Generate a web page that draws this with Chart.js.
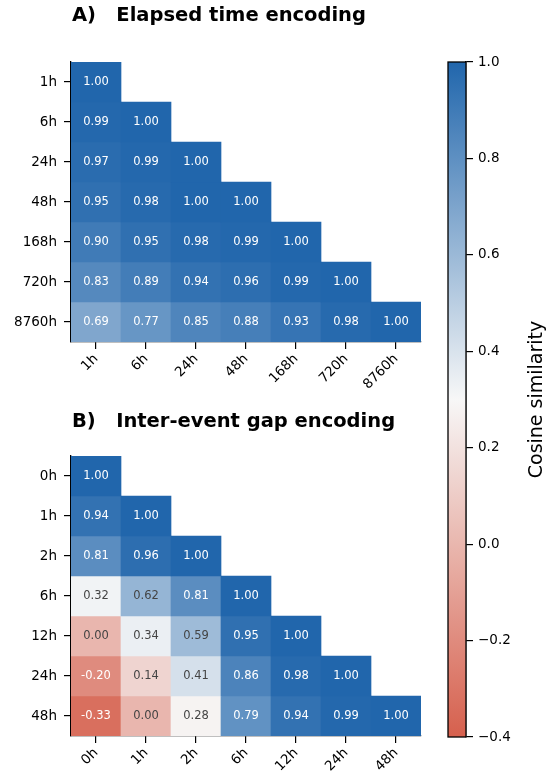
<!DOCTYPE html>
<html>
<head>
<meta charset="utf-8">
<script src="https://cdn.jsdelivr.net/npm/chart.js@4/dist/chart.umd.min.js"></script>
<style>
  html, body { margin: 0; padding: 0; background: #fff; }
  #wrap { position: relative; width: 551px; height: 776px; overflow: hidden; }
  canvas { position: absolute; }
</style>
</head>
<body>
<div id="wrap">
  <canvas id="elapsedChart" width="440" height="400" style="left:0;top:0;width:440px;height:400px"></canvas>
  <canvas id="gapChart" width="440" height="400" style="left:0;top:394px;width:440px;height:400px"></canvas>
  <canvas id="colorbar" width="121" height="776" style="left:430px;top:0;width:121px;height:776px"></canvas>
</div>
<script>
// --- data ---
const elapsedLabels = ['1h', '6h', '24h', '48h', '168h', '720h', '8760h'];
const elapsedValues = [
    [1.00],
    [0.99, 1.00],
    [0.97, 0.99, 1.00],
    [0.95, 0.98, 1.00, 1.00],
    [0.90, 0.95, 0.98, 0.99, 1.00],
    [0.83, 0.89, 0.94, 0.96, 0.99, 1.00],
    [0.69, 0.77, 0.85, 0.88, 0.93, 0.98, 1.00]
];

const gapLabels = ['0h', '1h', '2h', '6h', '12h', '24h', '48h'];
const gapValues = [
    [1.00],
    [0.94, 1.00],
    [0.81, 0.96, 1.00],
    [0.32, 0.62, 0.81, 1.00],
    [0.00, 0.34, 0.59, 0.95, 1.00],
    [-0.20, 0.14, 0.41, 0.86, 0.98, 1.00],
    [-0.33, 0.00, 0.28, 0.79, 0.94, 0.99, 1.00]
];

const colorbarTicks = [1.0, 0.8, 0.6, 0.4, 0.2, 0.0, -0.2, -0.4];
const colorRange = [-0.4, 1.0];

// --- colour map: red -> near white -> blue ---
const cmapColors = [[214, 96, 77], [247, 247, 247], [33, 102, 172]];

function cmap(v) {
    let t = (v - colorRange[0]) / (colorRange[1] - colorRange[0]);
    t = Math.max(0, Math.min(1, t));
    const seg = t < 0.5 ? 0 : 1;
    const f = seg === 0 ? t / 0.5 : (t - 0.5) / 0.5;
    const a = cmapColors[seg], b = cmapColors[seg + 1];
    return a.map((c, k) => Math.round(c + (b[k] - c) * f));
}
function rgb(c) { return `rgb(${c[0]},${c[1]},${c[2]})`; }

const FONT = 'DejaVu Sans';
const fmtMinus = s => s.replace('-', '\u2212');

// cell annotations
const cellText = {
    id: 'cellText',
    afterDatasetsDraw(chart) {
        const ctx = chart.ctx;
        ctx.save();
        ctx.font = `11.5px "${FONT}"`;
        ctx.textAlign = 'center';
        ctx.textBaseline = 'middle';
        chart.data.datasets.forEach((ds, di) => {
            const meta = chart.getDatasetMeta(di);
            meta.data.forEach((bar, j) => {
                const v = ds.cellValues[j];
                if (v === null || v === undefined) return;
                const c = cmap(v);
                const lum = 0.299 * c[0] + 0.587 * c[1] + 0.114 * c[2];
                ctx.fillStyle = lum > 168 ? '#444444' : '#ffffff';
                ctx.fillText(v.toFixed(2), bar.x, (bar.y + bar.base) / 2 + 0.5);
            });
        });
        ctx.restore();
    }
};

const panelTitle = {
    id: 'panelTitle',
    afterDraw(chart, args, opts) {
        const ctx = chart.ctx;
        ctx.save();
        ctx.font = `bold 19.5px "${FONT}"`;
        ctx.fillStyle = '#000';
        ctx.textAlign = 'left';
        ctx.textBaseline = 'alphabetic';
        ctx.fillText(opts.text, chart.chartArea.left + 1, opts.baseline);
        ctx.restore();
    }
};

function renderHeatmap({ elementId, labels, values, title, titleBaseline }) {
    const canvas = document.getElementById(elementId);
    const datasets = values.map((row, i) => {
        const cells = labels.map((_, j) => (j < row.length ? row[j] : null));
        return {
            data: cells.map(v => (v === null ? null : [i, i + 1])),
            cellValues: cells,
            backgroundColor: cells.map(v => (v === null ? 'rgba(0,0,0,0)' : rgb(cmap(v)))),
            borderWidth: 0,
            grouped: false,
            categoryPercentage: 1,
            barPercentage: 1
        };
    });

    const tickFont = { family: FONT, size: 13.5 };

    new Chart(canvas.getContext('2d'), {
        type: 'bar',
        data: { labels: labels, datasets: datasets },
        options: {
            responsive: false,
            animation: false,
            events: [],
            layout: { padding: { top: 62, right: 19, left: 0, bottom: 0 }, autoPadding: false },
            plugins: {
                legend: { display: false },
                tooltip: { enabled: false },
                panelTitle: { text: title, baseline: titleBaseline }
            },
            scales: {
                x: {
                    type: 'category',
                    offset: true,
                    grid: { offset: false, drawOnChartArea: false, drawTicks: true, tickLength: 7, color: '#000', lineWidth: 1.2 },
                    border: { display: true, color: '#000', width: 1.3 },
                    ticks: { font: tickFont, color: '#000', minRotation: 45, maxRotation: 45, autoSkip: false, padding: 2 },
                    afterFit: s => { s.height = 58; }
                },
                y: {
                    type: 'linear',
                    min: 0,
                    max: labels.length,
                    reverse: true,
                    afterBuildTicks: s => { s.ticks = labels.map((_, i) => ({ value: i + 0.5 })); },
                    grid: { drawOnChartArea: false, drawTicks: true, tickLength: 7, color: '#000', lineWidth: 1.2 },
                    border: { display: true, color: '#000', width: 1.3 },
                    ticks: { font: tickFont, color: '#000', padding: 7, autoSkip: false, callback: (v, i) => labels[i] },
                    afterFit: s => { s.width = 71; }
                }
            }
        },
        plugins: [cellText, panelTitle]
    });
}

renderHeatmap({
    elementId: 'elapsedChart',
    labels: elapsedLabels,
    values: elapsedValues,
    title: 'A)   Elapsed time encoding',
    titleBaseline: 21
});

renderHeatmap({
    elementId: 'gapChart',
    labels: gapLabels,
    values: gapValues,
    title: 'B)   Inter-event gap encoding',
    titleBaseline: 33
});

// colorbar
const colorbarFrame = {
    id: 'colorbarFrame',
    afterDraw(chart) {
        const { ctx, chartArea: a } = chart;
        ctx.save();
        ctx.strokeStyle = '#000';
        ctx.lineWidth = 1.3;
        ctx.strokeRect(a.left, a.top, a.right - a.left, a.bottom - a.top);
        ctx.font = `19px "${FONT}"`;
        ctx.fillStyle = '#000';
        ctx.textAlign = 'center';
        ctx.textBaseline = 'middle';
        ctx.translate(107, (a.top + a.bottom) / 2);
        ctx.rotate(-Math.PI / 2);
        ctx.fillText('Cosine similarity', 0, 0);
        ctx.restore();
    }
};

new Chart(document.getElementById('colorbar').getContext('2d'), {
    type: 'bar',
    data: {
        labels: [''],
        datasets: [{
            data: [colorRange],
            borderWidth: 0,
            categoryPercentage: 1,
            barPercentage: 1,
            inflateAmount: 0,
            backgroundColor: (c) => {
                const area = c.chart.chartArea;
                if (!area) return '#ccc';
                const g = c.chart.ctx.createLinearGradient(0, area.bottom, 0, area.top);
                for (let k = 0; k <= 20; k++) {
                    const t = k / 20;
                    g.addColorStop(t, rgb(cmap(colorRange[0] + t * (colorRange[1] - colorRange[0]))));
                }
                return g;
            }
        }]
    },
    options: {
        responsive: false,
        animation: false,
        events: [],
        layout: { padding: { top: 62, right: 0, left: 18, bottom: 39 }, autoPadding: false },
        plugins: { legend: { display: false }, tooltip: { enabled: false } },
        scales: {
            x: { display: false, offset: true },
            y: {
                position: 'right',
                min: colorRange[0],
                max: colorRange[1],
                afterBuildTicks: s => { s.ticks = colorbarTicks.map(v => ({ value: v })); },
                grid: { drawOnChartArea: false, drawTicks: true, tickLength: 7, color: '#000', lineWidth: 1.2 },
                border: { display: true, color: '#000', width: 1.3 },
                ticks: { font: { family: FONT, size: 13.5 }, color: '#000', padding: 5, callback: v => fmtMinus(v.toFixed(1)) },
                afterFit: s => { s.width = 85; }
            }
        }
    },
    plugins: [colorbarFrame]
});
</script>
</body>
</html>
